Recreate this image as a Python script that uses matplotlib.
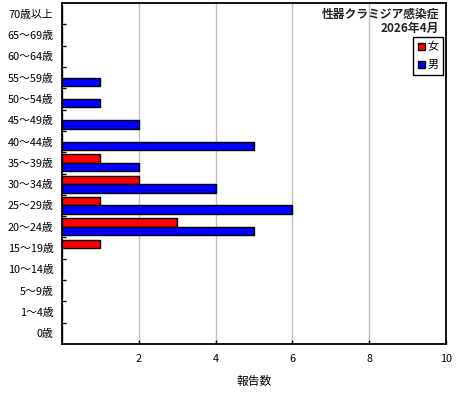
import matplotlib
matplotlib.use('Agg')
import matplotlib.pyplot as plt
import numpy as np

plt.rcParams['font.family'] = ['Noto Sans CJK JP', 'DejaVu Sans']

# データ
age_groups = ['0歳', '1〜4歳', '5〜9歳', '10〜14歳', '15〜19歳', '20〜24歳', '25〜29歳',
              '30〜34歳', '35〜39歳', '40〜44歳', '45〜49歳', '50〜54歳', '55〜59歳',
              '60〜64歳', '65〜69歳', '70歳以上']
female = [0, 0, 0, 0, 1, 3, 1, 2, 1, 0, 0, 0, 0, 0, 0, 0]
male = [0, 0, 0, 0, 0, 5, 6, 4, 2, 5, 2, 1, 1, 0, 0, 0]
x_ticks = [2, 4, 6, 8, 10]

title = '性器クラミジア感染症\n2026年4月'

fig = plt.figure(figsize=(4.6, 4.0), dpi=100)
ax = fig.add_axes([62 / 460, 56 / 400, 384 / 460, 341 / 400])

y = np.arange(len(age_groups))
h = 0.4
ax.barh(y + h / 2, female, height=h, color='#ff0000', edgecolor='black', linewidth=1, label='女', zorder=3)
ax.barh(y - h / 2, male, height=h, color='#0000ff', edgecolor='black', linewidth=1, label='男', zorder=3)

ax.set_xlim(0, 10)
ax.set_ylim(-0.5, len(age_groups) - 0.5)

# 目盛り
ax.set_yticks(y)
ax.set_yticklabels(age_groups, fontsize=7.8)
ax.tick_params(axis='y', which='major', length=0, pad=6)
ax.set_yticks(y[:-1] + 0.5, minor=True)
ax.tick_params(axis='y', which='minor', direction='in', length=3, width=1)

ax.set_xticks(x_ticks)
ax.set_xticklabels([str(v) for v in x_ticks], fontsize=7.8)
ax.tick_params(axis='x', direction='in', length=3, width=1, pad=7)
ax.grid(axis='x', color='#c0c0c0', linewidth=1, zorder=0)

for s in ax.spines.values():
    s.set_linewidth(1.3)

ax.set_xlabel('報告数', fontsize=8.5, labelpad=8)

ax.text(0.982, 0.985, title, transform=ax.transAxes, ha='right', va='top',
        fontsize=8.5, fontweight='bold', color='#222222', linespacing=1.1)

leg = ax.legend(loc='upper right', bbox_to_anchor=(0.993, 0.9), fontsize=8,
                fancybox=False, edgecolor='black', framealpha=1,
                handlelength=0.6, handleheight=0.6, handletextpad=0.2,
                borderpad=0.45, labelspacing=0.7, borderaxespad=0)
leg.get_frame().set_linewidth(1)

fig.savefig('out.png', dpi=100)
